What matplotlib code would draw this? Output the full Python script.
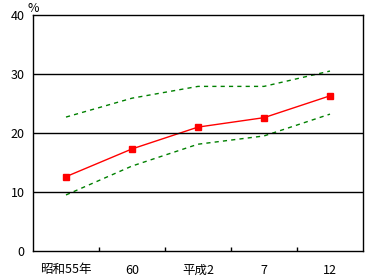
import matplotlib
matplotlib.use("Agg")
import matplotlib.pyplot as plt

plt.rcParams['font.family'] = ['Noto Sans CJK JP', 'DejaVu Sans']

categories = ['昭和55年', '60', '平成2', '7', '12']
rate = [12.6, 17.3, 21.0, 22.6, 26.3]
upper = [22.7, 25.9, 27.9, 27.9, 30.5]
lower = [9.5, 14.4, 18.1, 19.5, 23.2]
yticks = [0, 10, 20, 30, 40]

fig = plt.figure(figsize=(3.68, 2.78), dpi=100)
ax = fig.add_axes([33/368, 1 - 251/278, 330/368, 236/278])

x = list(range(len(categories)))
ax.plot(x, upper, color='#008000', linestyle=(0, (3, 3)), linewidth=1)
ax.plot(x, lower, color='#008000', linestyle=(0, (3, 3)), linewidth=1)
ax.plot(x, rate, color='#ff0000', linewidth=1, marker='s', markersize=5)

ax.set_xlim(-0.5, len(categories) - 0.5)
ax.set_ylim(0, 40)
for v in yticks[1:-1]:
    ax.axhline(v, color='black', linewidth=1)

ax.set_yticks(yticks)
ax.set_yticklabels([str(v) for v in yticks], fontsize=9)
ax.tick_params(axis='y', length=0, pad=6)
ax.set_xticks([i + 0.5 for i in x[:-1]])
ax.set_xticklabels([])
ax.set_xticks(x, minor=True)
ax.set_xticklabels(categories, minor=True, fontsize=9)
ax.tick_params(axis='x', which='major', direction='in', length=3, width=1)
ax.tick_params(axis='x', which='minor', length=0, pad=9)
for s in ax.spines.values():
    s.set_linewidth(1)
    s.set_color('black')

fig.text(27/368, 1 - 9/278, '%', fontsize=9, ha='left', va='center')

fig.savefig('out.png', dpi=100)
